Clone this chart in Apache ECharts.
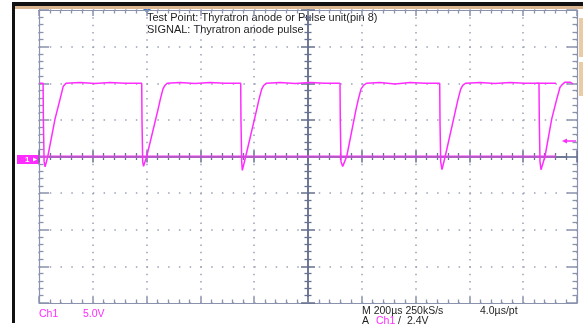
<!DOCTYPE html>
<html>
<head>
<meta charset="utf-8">
<script src="https://cdn.jsdelivr.net/npm/echarts@6/dist/echarts.min.js"></script>
<style>
html,body{margin:0;padding:0;background:#fff;}
#chart{width:583px;height:325px;}
</style>
</head>
<body>
<div id="chart"></div>
<script>
// Time in µs relative to screen centre (200 µs/div), voltage in V (5 V/div)
var signalTime = [
  -998, -984.8, -983.6, -981.0, -977.3, -967.3, -940.5, -921.9, -909.7, -899.6,
  -847.6, -791.8, -736.1, -680.3,
  -618.2, -617.1, -614.5, -611.5, -599.6, -557.6, -549.1, -539.4, -532.0, -523.4,
  -475.8, -420.1, -364.3, -308.6,
  -250.2, -249.1, -246.5, -244.2, -231.6, -190.7, -182.2, -172.1, -164.7, -155.4,
  -104.1, -48.3, 7.4, 63.2,
  119.0, 120.1, 122.7, 129.0, 143.9, 178.4, 187.0, 197.0, 206.3, 217.5,
  267.7, 323.4, 379.2, 434.9,
  489.6, 490.7, 493.3, 498.1, 510.0, 549.1, 557.6, 567.7, 575.1, 585.5,
  639.4, 695.2, 750.9, 806.7,
  858.7, 859.9, 862.5, 866.2, 881.0, 905.9, 924.5, 936.8, 946.1, 955.4, 974.0, 985.1
];
var signalVolts = [
  10.0, 10.0, 4.8, -0.7, -1.4, 0, 5.1, 7.8, 9.6, 10.0,
  10.1, 9.95, 10.1, 10.0,
  10.0, 4.8, -0.7, -1.35, 0, 6.4, 7.8, 9.2, 9.7, 10.0,
  10.1, 9.95, 10.1, 10.0,
  10.0, 4.8, -0.7, -1.9, 0, 6.4, 7.8, 9.2, 9.7, 10.0,
  10.1, 9.95, 10.1, 10.0,
  10.0, 4.8, -0.7, -1.35, 0, 6.4, 7.8, 9.2, 9.7, 10.0,
  10.1, 9.9, 10.1, 10.0,
  10.0, 4.8, -0.7, -1.8, 0, 6.4, 7.8, 9.2, 9.7, 10.0,
  10.1, 9.95, 10.1, 10.0,
  10.0, 4.8, -0.7, -1.8, 0, 5.1, 7.8, 9.45, 9.85, 10.15, 10.15, 9.9
];
// persisted trace segments
var ghostTime = [850, 922];
var ghostVolts = [10.0, 10.0];
var groundTime = [-1000, 922];
var groundVolts = [0, 0];

var xMin = -1000, xMax = 1000, xStep = 200;
var yMin = -20, yMax = 20, yStep = 5;

var topLines = ['Test Point: Thyratron anode or Pulse unit(pin 8)', 'SIGNAL: Thyratron anode pulse'];
var chLabel = 'Ch1', voltsPerDiv = '5.0V';
var timeInfo = 'M 200\u00b5s 250kS/s', ptInfo = '4.0\u00b5s/pt';
var trigSource = 'Ch1', trigLevel = '2.4V';

function zip(a, b) { return a.map(function (v, i) { return [v, b[i]]; }); }

var FRAME = '#8a92ad', CENTER = '#66708f', DOT = '#9aa1b6', MAG = '#ff2cff';
var FONT = '11px "Liberation Sans", Arial, sans-serif';
var FONT_B = '10.5px "Liberation Sans", Arial, sans-serif';

function xAx(pos, onZero, opts) {
  return Object.assign({
    type: 'value', min: xMin, max: xMax, interval: xStep, position: pos,
    axisLabel: { show: false },
    axisLine: { show: true, onZero: onZero, lineStyle: { color: onZero ? CENTER : FRAME, width: onZero ? 1.5 : 1.2 } },
    axisTick: { show: true, inside: !onZero, length: 6, lineStyle: { color: onZero ? CENTER : FRAME, width: 1.5 } },
    minorTick: { show: true, splitNumber: 5, length: 3.5, lineStyle: { color: onZero ? CENTER : FRAME, width: 1.3 } },
    splitLine: { show: false }
  }, opts || {});
}
function yAx(pos, onZero, opts) {
  return Object.assign({
    type: 'value', min: yMin, max: yMax, interval: yStep, position: pos,
    axisLabel: { show: false },
    axisLine: { show: true, onZero: onZero, lineStyle: { color: onZero ? CENTER : FRAME, width: onZero ? 1.5 : 1.2 } },
    axisTick: { show: true, inside: !onZero, length: onZero ? 7 : 10, lineStyle: { color: onZero ? CENTER : FRAME, width: 1.5 } },
    minorTick: { show: true, splitNumber: 5, length: onZero ? 3.5 : 4.5, lineStyle: { color: onZero ? CENTER : FRAME, width: 1.3 } },
    splitLine: { show: false }
  }, opts || {});
}

var chart = echarts.init(document.getElementById('chart'), null, { renderer: 'canvas' });
var option = {
  animation: false,
  backgroundColor: '#fff',
  grid: { left: 39, top: 10, width: 538, height: 293, containLabel: false },
  xAxis: [
    xAx('bottom', false, { splitLine: { show: true, lineStyle: { color: DOT, width: 1.5, type: [1.5, 5.825] } } }),
    xAx('top', false),
    xAx('bottom', true),
    xAx('top', true)
  ],
  yAxis: [
    yAx('left', false, { splitLine: { show: true, lineStyle: { color: DOT, width: 1.5, type: [1.5, 9.26] } } }),
    yAx('right', false),
    yAx('left', true),
    yAx('right', true)
  ],
  series: [
    { type: 'line', xAxisIndex: 0, yAxisIndex: 0, data: zip(groundTime, groundVolts), symbol: 'none',
      lineStyle: { color: 'rgba(240,70,240,0.55)', width: 3 }, z: 3, silent: true },
    { type: 'line', xAxisIndex: 0, yAxisIndex: 0, data: zip(ghostTime, ghostVolts), symbol: 'none',
      lineStyle: { color: MAG, width: 1.5 }, z: 4, silent: true },
    { type: 'line', xAxisIndex: 0, yAxisIndex: 0, data: zip(signalTime, signalVolts), symbol: 'none',
      lineStyle: { color: MAG, width: 1.5 }, z: 5, silent: true }
  ],
  graphic: [
    { type: 'rect', shape: { x: 12, y: 2, width: 571, height: 4 }, style: { fill: '#111' } },
    { type: 'rect', shape: { x: 15, y: 6, width: 568, height: 3 }, style: { fill: '#d9b690' } },
    { type: 'rect', shape: { x: 12, y: 2, width: 3, height: 321 }, style: { fill: '#111' } },
    { type: 'rect', shape: { x: 579, y: 18, width: 4, height: 39 }, style: { fill: '#e9cba6' } },
    { type: 'rect', shape: { x: 579, y: 62, width: 4, height: 34 }, style: { fill: '#e9cba6' } },
    // trigger position marker
    { type: 'polygon', shape: { points: [[143, 9], [151, 9], [147, 13]] }, style: { fill: '#2f73d6' } },
    // channel 1 ground marker
    { type: 'rect', shape: { x: 17, y: 155, width: 22, height: 9 }, style: { fill: MAG } },
    { type: 'text', x: 25, y: 159.5, style: { text: '1', font: 'bold 8px "Liberation Sans", Arial, sans-serif', fill: '#fff', verticalAlign: 'middle' } },
    { type: 'polygon', shape: { points: [[33, 157.5], [37, 159.5], [33, 161.5]] }, style: { fill: '#fff' } },
    // trigger level marker
    { type: 'line', shape: { x1: 566, y1: 141, x2: 576, y2: 141 }, style: { stroke: MAG, lineWidth: 1.5 } },
    { type: 'polygon', shape: { points: [[562, 141], [567, 138.5], [567, 143.5]] }, style: { fill: MAG } },
    // texts
    { type: 'text', x: 147, y: 18, style: { text: topLines[0], font: FONT, fill: '#1e1e1e', verticalAlign: 'middle' } },
    { type: 'text', x: 147, y: 30, style: { text: topLines[1], font: FONT, fill: '#1e1e1e', verticalAlign: 'middle' } },
    { type: 'text', x: 39, y: 314, style: { text: chLabel, font: FONT_B, fill: MAG, verticalAlign: 'middle' } },
    { type: 'text', x: 83, y: 314, style: { text: voltsPerDiv, font: FONT_B, fill: MAG, verticalAlign: 'middle' } },
    { type: 'text', x: 362, y: 311, style: { text: timeInfo, font: FONT_B, fill: '#1e1e1e', verticalAlign: 'middle' } },
    { type: 'text', x: 480, y: 311, style: { text: ptInfo, font: FONT_B, fill: '#1e1e1e', verticalAlign: 'middle' } },
    { type: 'text', x: 362, y: 321, style: { text: 'A', font: FONT_B, fill: '#1e1e1e', verticalAlign: 'middle' } },
    { type: 'text', x: 376, y: 321, style: { text: trigSource, font: FONT_B, fill: MAG, verticalAlign: 'middle' } },
    { type: 'text', x: 398, y: 321, style: { text: '/', font: FONT_B, fill: '#1e1e1e', verticalAlign: 'middle' } },
    { type: 'text', x: 407, y: 321, style: { text: trigLevel, font: FONT_B, fill: '#1e1e1e', verticalAlign: 'middle' } }
  ]
};
chart.setOption(option);
</script>
</body>
</html>
